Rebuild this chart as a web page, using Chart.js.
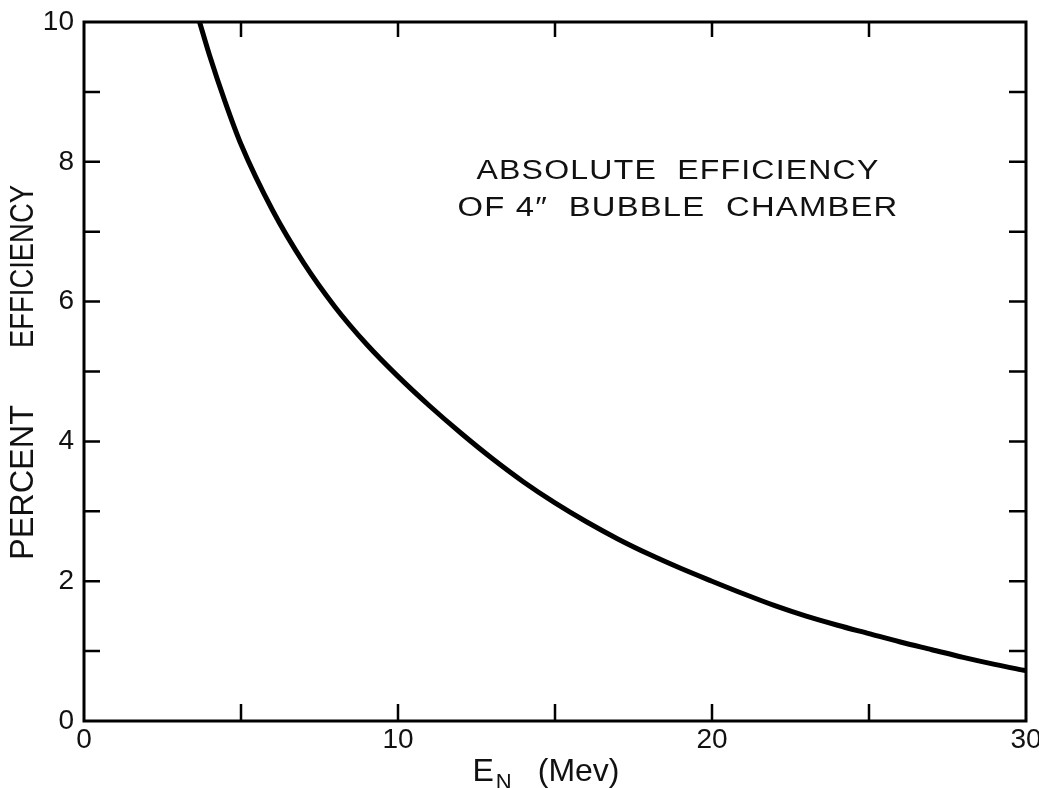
<!DOCTYPE html>
<html>
<head>
<meta charset="utf-8">
<script src="https://cdn.jsdelivr.net/npm/chart.js@4.4.1/dist/chart.umd.min.js"></script>
<style>
  html, body { margin: 0; padding: 0; background: #fff; }
  #wrap { width: 1039px; height: 788px; position: relative; }
</style>
</head>
<body>
<div id="wrap"><canvas id="c" width="1039" height="788"></canvas></div>
<script>
// Neutron energy E_N (MeV) and absolute efficiency (%) of the 4" bubble chamber
const energyMeV = [3.68, 4.0, 4.5, 5.0, 6.0, 7.0, 8.0, 9.0, 10.0, 11.0, 12.0, 13.0, 14.0, 15.0,
                   16.0, 17.0, 18.0, 19.0, 20.0, 21.0, 22.0, 23.0, 24.0, 25.0, 26.0, 27.0, 28.0, 29.0, 30.0];
const efficiencyPct = [10.0, 9.52, 8.85, 8.25, 7.31, 6.55, 5.92, 5.39, 4.93, 4.51, 4.12, 3.755, 3.42, 3.12,
                       2.85, 2.605, 2.385, 2.185, 2.00, 1.82, 1.65, 1.50, 1.37, 1.25, 1.13, 1.02, 0.91, 0.81, 0.72];

// Axis ranges, tick spacing and which ticks carry a number
const xRange = [0, 30];
const yRange = [0, 10];
const xTickStep = 5;
const yTickStep = 1;
const xLabelValues = [0, 10, 20, 30];
const yLabelValues = [0, 2, 4, 6, 8, 10];

// Text
const yAxisWords = ['PERCENT', 'EFFICIENCY'];
const xAxisTitle = { main: 'E', sub: 'N', unit: '(Mev)' };
const plotTitle = ['ABSOLUTE  EFFICIENCY', 'OF 4\u2033  BUBBLE  CHAMBER'];

const FONT = "'Liberation Sans', Arial, Helvetica, sans-serif";
const INK = '#111';

const points = energyMeV.map((e, i) => ({ x: e, y: efficiencyPct[i] }));

// Closed frame with inward-pointing ticks on all four sides
const frameTicks = {
  id: 'frameTicks',
  afterDatasetsDraw(chart) {
    const { ctx, chartArea: a, scales: { x, y } } = chart;
    ctx.save();
    ctx.strokeStyle = '#000';
    ctx.lineWidth = 3;
    ctx.strokeRect(a.left, a.top, a.right - a.left, a.bottom - a.top);
    ctx.lineWidth = 2.5;
    ctx.beginPath();
    x.ticks.forEach(t => {
      if (t.value <= xRange[0] || t.value >= xRange[1]) return;
      const px = x.getPixelForValue(t.value);
      ctx.moveTo(px, a.bottom); ctx.lineTo(px, a.bottom - 17);
      ctx.moveTo(px, a.top); ctx.lineTo(px, a.top + 15);
    });
    y.ticks.forEach(t => {
      if (t.value <= yRange[0] || t.value >= yRange[1]) return;
      const py = y.getPixelForValue(t.value);
      ctx.moveTo(a.left, py); ctx.lineTo(a.left + 16, py);
      ctx.moveTo(a.right, py); ctx.lineTo(a.right - 17, py);
    });
    ctx.stroke();
    ctx.restore();
  }
};

// Draws a line of text centred on (cx, cy), squeezed or stretched to a given width
function fitText(ctx, text, cx, cy, width) {
  const w = ctx.measureText(text).width;
  ctx.save();
  ctx.translate(cx, cy);
  ctx.scale(width / w, 1);
  ctx.fillText(text, 0, 0);
  ctx.restore();
}

// Axis titles and the two-line caption inside the plot
const annotations = {
  id: 'annotations',
  afterDraw(chart) {
    const { ctx, chartArea: a, scales: { x } } = chart;
    ctx.save();
    ctx.fillStyle = INK;

    // Vertical axis title, one word at a time
    ctx.save();
    ctx.translate(24, (a.top + a.bottom) / 2);
    ctx.rotate(-Math.PI / 2);
    ctx.font = `33px ${FONT}`;
    ctx.textAlign = 'center';
    ctx.textBaseline = 'middle';
    fitText(ctx, yAxisWords[0], -111, 0, 155);
    fitText(ctx, yAxisWords[1], 105, 0, 163);
    ctx.restore();

    // E_N (Mev)
    ctx.textBaseline = 'alphabetic';
    ctx.textAlign = 'left';
    const big = `32px ${FONT}`;
    const small = `22px ${FONT}`;
    ctx.font = big;
    const wE = ctx.measureText(xAxisTitle.main).width;
    const wU = ctx.measureText(xAxisTitle.unit).width;
    ctx.font = small;
    const wN = ctx.measureText(xAxisTitle.sub).width;
    const gap = 26;
    const total = wE + 2 + wN + gap + wU;
    let sx = (x.left + x.right) / 2 - total / 2 - 9;
    const base = 781;
    ctx.font = big;
    ctx.fillText(xAxisTitle.main, sx, base);
    sx += wE + 2;
    ctx.font = small;
    ctx.fillText(xAxisTitle.sub, sx, base + 8);
    sx += wN + gap;
    ctx.font = big;
    ctx.fillText(xAxisTitle.unit, sx, base);

    // Caption, each line stretched to its width
    ctx.font = `27px ${FONT}`;
    ctx.textAlign = 'center';
    if ('letterSpacing' in ctx) ctx.letterSpacing = '1px';
    const captionWidths = [403, 441];
    const baselines = [179, 216];
    plotTitle.forEach((line, i) => {
      fitText(ctx, line, 678, baselines[i], captionWidths[i]);
    });
    ctx.restore();
  }
};

new Chart(document.getElementById('c'), {
  type: 'scatter',
  data: {
    datasets: [{
      data: points,
      showLine: true,
      borderColor: '#000',
      borderWidth: 5,
      pointRadius: 0,
      pointHoverRadius: 0,
      cubicInterpolationMode: 'monotone',
      fill: false
    }]
  },
  options: {
    responsive: false,
    animation: false,
    devicePixelRatio: 1,
    layout: { padding: { left: 0, top: 22, right: 13, bottom: 0 } },
    plugins: { legend: { display: false }, tooltip: { enabled: false }, title: { display: false } },
    scales: {
      x: {
        type: 'linear',
        position: 'bottom',
        min: xRange[0],
        max: xRange[1],
        grid: { display: false },
        border: { display: false },
        ticks: {
          stepSize: xTickStep,
          autoSkip: false,
          maxRotation: 0,
          padding: -6,
          color: INK,
          font: { family: FONT, size: 28 },
          callback: v => (xLabelValues.includes(v) ? String(v) : '')
        },
        afterFit(scale) { scale.height = 67; scale.paddingLeft = 0; scale.paddingRight = 0; }
      },
      y: {
        type: 'linear',
        position: 'left',
        min: yRange[0],
        max: yRange[1],
        grid: { display: false },
        border: { display: false },
        ticks: {
          stepSize: yTickStep,
          autoSkip: false,
          padding: 2,
          color: INK,
          font: { family: FONT, size: 28 },
          callback: v => (yLabelValues.includes(v) ? String(v) : '')
        },
        afterFit(scale) { scale.width = 84; scale.paddingTop = 0; scale.paddingBottom = 0; }
      }
    }
  },
  plugins: [frameTicks, annotations]
});
</script>
</body>
</html>
